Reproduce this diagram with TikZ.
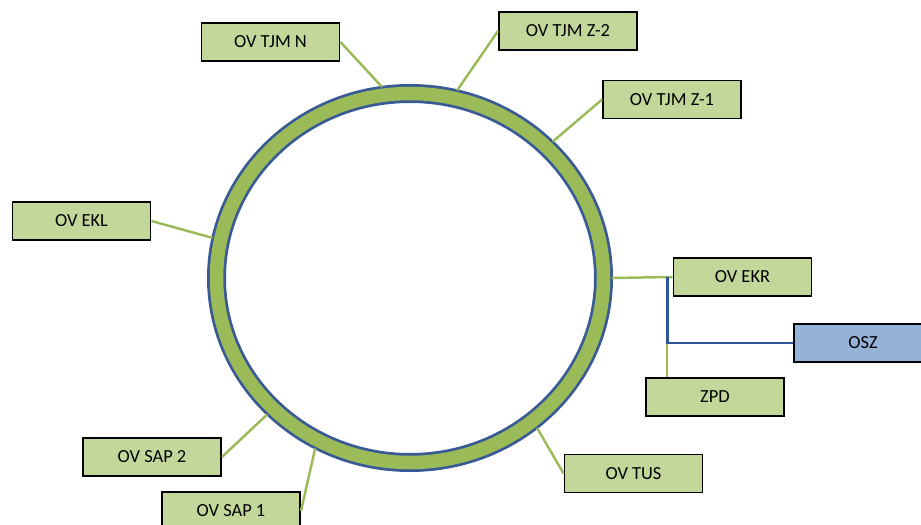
\documentclass[tikz,border=0pt]{standalone}
\usepackage{fontspec}
\setmainfont{Carlito}
\definecolor{boxgreen}{HTML}{C4D79B}
\definecolor{ringgreen}{HTML}{9BBB59}
\definecolor{ringblue}{HTML}{3A5A96}
\definecolor{boxblue}{HTML}{95B3D7}
\definecolor{linkblue}{HTML}{2F5597}

\begin{document}
\begin{tikzpicture}[
    station/.style={draw=black, line width=1.1pt, fill=boxgreen, minimum width=2.76cm, minimum height=0.76cm, inner sep=0pt, font=\fontsize{10.5}{12}\selectfont},
    link/.style={draw=ringgreen, line width=1.4pt},
    bluelink/.style={draw=linkblue, line width=1.7pt}
  ]
    \path[use as bounding box] (0,0) rectangle (18.42,-10.48);
    \clip (0,0) rectangle (18.42,-10.48);

    \coordinate (ring-center) at (8.2,-5.56);

    \draw [ringblue, line width=0.38cm] (ring-center) ellipse [x radius=3.87, y radius=3.69];
    \draw [ringgreen, line width=0.27cm] (ring-center) ellipse [x radius=3.87, y radius=3.69];

    \node (tjm-n) at (5.41,-0.84) [station] {OV TJM N};
    \node (tjm-z2) at (11.36,-0.62) [station] {OV TJM Z-2};
    \node (tjm-z1) at (13.44,-1.99) [station] {OV TJM Z-1};
    \node (ekl) at (1.63,-4.42) [station] {OV EKL};
    \node (ekr) at (14.85,-5.54) [station] {OV EKR};
    \node (osz) at (17.26,-6.86) [station, fill=boxblue] {OSZ};
    \node (zpd) at (14.30,-7.94) [station] {ZPD};
    \node (tus) at (12.67,-9.47) [station] {OV TUS};
    \node (sap-2) at (3.04,-9.14) [station] {OV SAP 2};
    \node (sap-1) at (4.62,-10.22) [station] {OV SAP 1};

    \coordinate (tjm-n-tap) at ([shift={(98:4.04 and 3.86)}]ring-center);
    \coordinate (tjm-z2-tap) at ([shift={(76.5:4.04 and 3.86)}]ring-center);
    \coordinate (tjm-z1-tap) at ([shift={(45:4.04 and 3.86)}]ring-center);
    \coordinate (ekl-tap) at ([shift={(168:4.04 and 3.86)}]ring-center);
    \coordinate (ekr-tap) at ([shift={(0:4.04 and 3.86)}]ring-center);
    \coordinate (tus-tap) at ([shift={(-51:4.04 and 3.86)}]ring-center);
    \coordinate (sap-2-tap) at ([shift={(-135:4.04 and 3.86)}]ring-center);
    \coordinate (sap-1-tap) at ([shift={(-118:4.04 and 3.86)}]ring-center);

    \coordinate (ekr-branch) at (13.34,-5.54);
    \coordinate (osz-branch) at (13.34,-6.86);

    \draw [link] (tjm-n-tap) -- (tjm-n.east);
    \draw [link] (tjm-z2-tap) -- (tjm-z2.west);
    \draw [link] (tjm-z1-tap) -- (tjm-z1.west);
    \draw [link] (ekl-tap) -- (ekl.east);
    \draw [link] (ekr-tap) -- (ekr.west);
    \draw [link] (tus-tap) -- (tus.west);
    \draw [link] (sap-2-tap) -- (sap-2.east);
    \draw [link] (sap-1-tap) -- (sap-1.east);

    \draw [link] (osz-branch) -- (osz-branch |- zpd.north);
    \draw [bluelink] (ekr-branch) -- (osz-branch) -- (osz.west);
\end{tikzpicture}
\end{document}
